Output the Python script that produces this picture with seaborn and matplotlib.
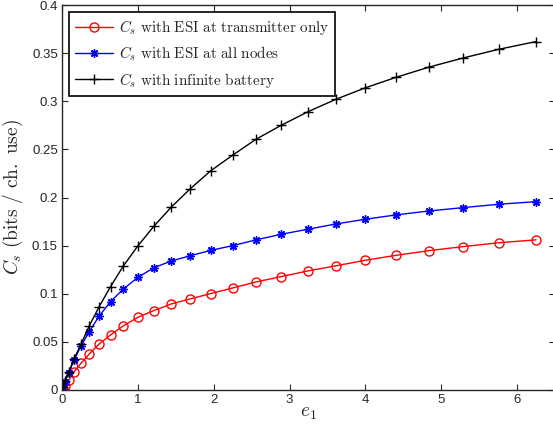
import numpy as np
import pandas as pd
import seaborn as sns
from matplotlib import pyplot as plt

# values
e1 = [0, 0.01, 0.04, 0.09, 0.16, 0.25, 0.36, 0.49, 0.64, 0.81, 1.0, 1.21, 1.44,
      1.69, 1.96, 2.25, 2.56, 2.89, 3.24, 3.61, 4.0, 4.41, 4.84, 5.29, 5.76, 6.25]
cs_tx_only = [0, 0.001, 0.0045, 0.0104, 0.019, 0.0277, 0.0374, 0.0478, 0.0572, 0.0667,
              0.0755, 0.0825, 0.0894, 0.0946, 0.1002, 0.106, 0.1123, 0.1178, 0.1237,
              0.129, 0.1348, 0.140, 0.1448, 0.149, 0.153, 0.156]
cs_all_nodes = [0, 0.0028, 0.0086, 0.018, 0.0312, 0.0457, 0.0606, 0.0769, 0.0918, 0.105,
                0.117, 0.127, 0.134, 0.1395, 0.145, 0.150, 0.156, 0.1618, 0.167,
                0.1725, 0.1774, 0.182, 0.186, 0.1895, 0.193, 0.1957]
cs_inf_battery = [0, 0.0034, 0.0097, 0.019, 0.0325, 0.0475, 0.0668, 0.0866, 0.1074, 0.129,
                  0.1497, 0.170, 0.190, 0.209, 0.2277, 0.244, 0.2606, 0.275, 0.289,
                  0.302, 0.314, 0.325, 0.3355, 0.345, 0.354, 0.362]

labels = [r'$C_s\ \mathrm{with\ ESI\ at\ transmitter\ only}$',
          r'$C_s\ \mathrm{with\ ESI\ at\ all\ nodes}$',
          r'$C_s\ \mathrm{with\ infinite\ battery}$']
x_ticks = [0, 1, 2, 3, 4, 5, 6]
y_ticks = [0, 0.05, 0.1, 0.15, 0.2, 0.25, 0.3, 0.35, 0.4]
y_tick_labels = ['0', '0.05', '0.1', '0.15', '0.2', '0.25', '0.3', '0.35', '0.4']

sns.set_style('ticks')
plt.rcParams['font.family'] = ['Liberation Sans', 'DejaVu Sans']
plt.rcParams['mathtext.fontset'] = 'cm'
plt.rcParams['xtick.direction'] = 'in'
plt.rcParams['ytick.direction'] = 'in'
plt.rcParams['xtick.top'] = True
plt.rcParams['ytick.right'] = True

fig = plt.figure(figsize=(5.53, 4.26), dpi=100)
ax = fig.add_axes([62 / 553, 36 / 426, 493 / 553, 385 / 426])

series = [cs_tx_only, cs_all_nodes, cs_inf_battery]
colors = ['#ff0000', '#0000ff', '#000000']
markers = ['o', (8, 2, 0), '+']
msizes = [6.5, 6, 7]

for vals, lab, col, mk, ms in zip(series, labels, colors, markers, msizes):
    df = pd.DataFrame({'e1': e1, 'cs': vals})
    sns.lineplot(data=df, x='e1', y='cs', ax=ax, color=col, marker=mk, markersize=ms,
                 markerfacecolor='none', markeredgecolor=col, markeredgewidth=1.0,
                 linewidth=1.0, label=lab)

ax.set_xlim(0, 6.5)
ax.set_ylim(0, 0.4)
ax.set_xticks(x_ticks)
ax.set_yticks(y_ticks)
ax.set_yticklabels(y_tick_labels)
ax.tick_params(labelsize=9.5, length=4, width=0.8, pad=3)
for s in ax.spines.values():
    s.set_linewidth(1.0)
    s.set_visible(True)

ax.set_xlabel(r'$e_1$', fontsize=14, labelpad=-1)
ax.set_ylabel(r'$C_s\ \mathrm{(bits\ /\ ch.\ use)}$', fontsize=14, labelpad=5)

leg = ax.legend(loc='upper left', fontsize=10.9, frameon=True, fancybox=False,
                edgecolor='black', framealpha=1, borderaxespad=0.45,
                handlelength=2.5, handletextpad=0.4, labelspacing=0.5, borderpad=0.4)
leg.get_frame().set_linewidth(1.2)

fig.savefig('out.png', dpi=100)
